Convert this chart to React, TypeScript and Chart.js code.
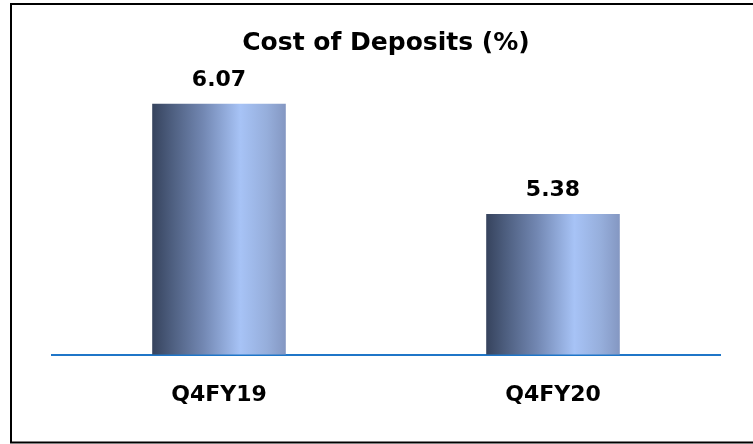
import React, { useEffect, useRef } from "react";
import { Chart, registerables } from "chart.js";

Chart.register(...registerables);

const categories: string[] = ["Q4FY19", "Q4FY20"];
const costOfDeposits: number[] = [6.07, 5.38];
const chartTitle = "Cost of Deposits (%)";
const yMin = 4.5;
const yMax = 6.2;

const FONT = "'DejaVu Sans', sans-serif";
const BAR_FRACTION = 0.4;

function barGradient(context: any) {
  const chart = context.chart;
  const area = chart.chartArea;
  const xScale = chart.scales && chart.scales.x;
  if (!area || !xScale || context.dataIndex === undefined) return "#8da6d6";
  const n = chart.data.labels.length;
  const center = xScale.getPixelForValue(context.dataIndex);
  const w = ((area.right - area.left) / n) * BAR_FRACTION;
  const left = center - w / 2;
  const right = center + w / 2;
  const g = chart.ctx.createLinearGradient(left, 0, right, 0);
  g.addColorStop(0, "#36435d");
  g.addColorStop(0.15, "#4e5f80");
  g.addColorStop(0.38, "#7287b2");
  g.addColorStop(0.66, "#a7c3f6");
  g.addColorStop(0.86, "#96aedb");
  g.addColorStop(1, "#8497c2");
  return g;
}

const valueLabels = {
  id: "valueLabels",
  afterDatasetsDraw(chart: any) {
    const ctx = chart.ctx as CanvasRenderingContext2D;
    const meta = chart.getDatasetMeta(0);
    const data = chart.data.datasets[0].data as number[];
    ctx.save();
    ctx.font = `bold 22px ${FONT}`;
    ctx.fillStyle = "#000000";
    ctx.textAlign = "center";
    ctx.textBaseline = "alphabetic";
    meta.data.forEach((el: any, i: number) => {
      ctx.fillText(data[i].toFixed(2), el.x, el.y - 18);
    });
    ctx.restore();
  },
};

const frame = {
  id: "frame",
  afterDraw(chart: any) {
    const ctx = chart.ctx as CanvasRenderingContext2D;
    ctx.save();
    ctx.strokeStyle = "#000000";
    ctx.lineWidth = 2;
    ctx.beginPath();
    ctx.moveTo(760, 4);
    ctx.lineTo(11, 4);
    ctx.lineTo(11, 442.5);
    ctx.lineTo(760, 442.5);
    ctx.stroke();
    ctx.restore();
  },
};

export default function App() {
  const ref = useRef<HTMLCanvasElement | null>(null);

  useEffect(() => {
    if (!ref.current) return;
    const chart = new Chart(ref.current, {
      type: "bar",
      data: {
        labels: categories,
        datasets: [
          {
            data: costOfDeposits,
            backgroundColor: barGradient,
            borderWidth: 0,
            barPercentage: BAR_FRACTION,
            categoryPercentage: 1,
          },
        ],
      },
      options: {
        responsive: false,
        animation: false,
        devicePixelRatio: 1,
        layout: { padding: { left: 52, right: 33, top: 0, bottom: 9 } },
        plugins: {
          legend: { display: false },
          tooltip: { enabled: false },
          title: {
            display: true,
            text: chartTitle,
            fullSize: false,
            color: "#000000",
            font: { family: FONT, size: 25, weight: "bold", lineHeight: 1.2 },
            padding: { top: 28, bottom: 25 },
          },
        },
        scales: {
          x: {
            grid: { display: false, drawTicks: false },
            border: { display: true, color: "#1f76c8", width: 2 },
            ticks: {
              color: "#000000",
              padding: 27,
              font: { family: FONT, size: 22, weight: "bold", lineHeight: 1.2 },
            },
          },
          y: {
            display: false,
            min: yMin,
            max: yMax,
          },
        },
      },
      plugins: [valueLabels, frame],
    });
    return () => chart.destroy();
  }, []);

  return (
    <div style={{ position: "fixed", left: 0, top: 0, width: 753, height: 444, background: "#ffffff" }}>
      <canvas ref={ref} width={753} height={444} />
    </div>
  );
}
